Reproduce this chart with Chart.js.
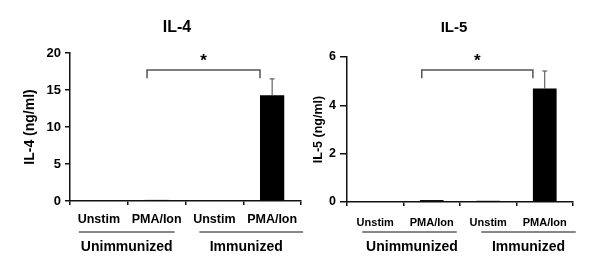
<!DOCTYPE html>
<html>
<head>
<meta charset="utf-8">
<script src="https://cdn.jsdelivr.net/npm/chart.js@4.4.1/dist/chart.umd.min.js"></script>
<style>
  body { margin: 0; background: #fff; }
  #wrap { position: relative; width: 600px; height: 277px; }
  .panel { position: absolute; top: 0; height: 277px; }
</style>
</head>
<body>
<div id="wrap">
  <div class="panel" style="left:0;width:310px"><canvas id="il4"></canvas></div>
  <div class="panel" style="left:300px;width:300px"><canvas id="il5"></canvas></div>
</div>
<script>
var categories = ["Unstim", "PMA/Ion", "Unstim", "PMA/Ion"];
var groups = ["Unimmunized", "Immunized"];
var groupSpans = [[0, 1], [2, 3]];

var il4Values = [0, 0.15, 0, 14.3];
var il4Errors = [0, 0, 0, 2.2];
var il4Ticks = [0, 5, 10, 15, 20];
var il4Bracket = [17.7, 16.6]; // bar top, leg end

var il5Values = [0, 0.08, 0.05, 4.7];
var il5Errors = [0, 0, 0, 0.72];
var il5Ticks = [0, 2, 4, 6];
var il5Bracket = [5.46, 5.12];

var FONT = '"Liberation Sans", Arial, sans-serif';
var AXIS = "#111";

// errors, significance bracket, titles and the group labels under the axis
function annotations(s) {
  return {
    id: "annot",
    afterDatasetsDraw: function (chart) {
      var ctx = chart.ctx;
      var x = chart.scales.x, y = chart.scales.y;
      var bars = chart.getDatasetMeta(0).data;
      ctx.save();

      ctx.strokeStyle = "#444";
      ctx.lineWidth = 1;
      s.errors.forEach(function (e, i) {
        if (!e) return;
        var b = bars[i];
        var top = y.getPixelForValue(s.values[i] + e);
        ctx.beginPath();
        ctx.moveTo(b.x, b.y);
        ctx.lineTo(b.x, top);
        ctx.moveTo(b.x - 2.5, top);
        ctx.lineTo(b.x + 2.5, top);
        ctx.stroke();
      });

      var bTop = y.getPixelForValue(s.bracket[0]);
      var bLeg = y.getPixelForValue(s.bracket[1]);
      var last = bars[3];
      var x1 = x.getPixelForValue(1) + s.bracketLeft;
      var x2 = last.x - last.width / 2;
      ctx.strokeStyle = "#555";
      ctx.lineWidth = 1.5;
      ctx.beginPath();
      ctx.moveTo(x1, bLeg);
      ctx.lineTo(x1, bTop);
      ctx.lineTo(x2, bTop);
      ctx.lineTo(x2, bLeg);
      ctx.stroke();

      ctx.fillStyle = "#000";
      ctx.textAlign = "center";
      ctx.textBaseline = "alphabetic";
      ctx.font = "bold 17px " + FONT;
      ctx.fillText("*", (x1 + x2) / 2, bTop - 4);

      ctx.textBaseline = "middle";
      ctx.font = "bold " + s.titleSize + "px " + FONT;
      ctx.fillText(s.title, s.titleX, 28);

      ctx.font = "bold 14px " + FONT;
      ctx.strokeStyle = AXIS;
      ctx.lineWidth = 1;
      groupSpans.forEach(function (span, g) {
        var a = x.getPixelForValue(span[0]) + s.lineOffsets[g][0];
        var b = x.getPixelForValue(span[1]) + s.lineOffsets[g][1];
        ctx.beginPath();
        ctx.moveTo(a, s.lineY);
        ctx.lineTo(b, s.lineY);
        ctx.stroke();
        ctx.fillText(groups[g], (a + b) / 2 + s.labelShift[g], s.groupY);
      });
      ctx.restore();
    }
  };
}

function drawPanel(id, s) {
  return new Chart(document.getElementById(id), {
    type: "bar",
    data: {
      labels: categories,
      datasets: [{
        data: s.values,
        backgroundColor: "#000",
        borderWidth: 0,
        categoryPercentage: 1,
        barPercentage: 0.42
      }]
    },
    options: {
      responsive: true,
      maintainAspectRatio: false,
      animation: false,
      layout: { padding: { top: s.top, right: s.right, left: 0, bottom: 0 } },
      plugins: { legend: { display: false }, tooltip: { enabled: false } },
      scales: {
        x: {
          grid: { offset: true, drawOnChartArea: false, tickLength: 4, color: AXIS, lineWidth: 1.5 },
          border: { color: AXIS, width: 1.5 },
          ticks: { font: { family: FONT, weight: "bold", size: s.catSize }, color: "#000", padding: s.catPad, maxRotation: 0, autoSkip: false },
          afterFit: function (sc) { sc.height = s.xHeight; }
        },
        y: {
          min: 0,
          max: s.ticks[s.ticks.length - 1],
          afterBuildTicks: function (sc) {
            sc.ticks = s.ticks.map(function (v) { return { value: v }; });
          },
          grid: { drawOnChartArea: false, tickLength: s.tickLen, color: AXIS, lineWidth: 1.5 },
          border: { color: AXIS, width: 1.5 },
          ticks: { font: { family: FONT, weight: "bold", size: s.tickSize }, color: "#000", padding: 4 },
          title: {
            display: true,
            text: s.yTitle,
            color: "#000",
            font: { family: FONT, weight: "bold", size: s.yTitleSize },
            padding: { top: s.yTitlePad, bottom: 0 }
          },
          afterFit: function (sc) { sc.width = s.yWidth; }
        }
      }
    },
    plugins: [annotations(s)]
  });
}

drawPanel("il4", {
  title: "IL-4", titleSize: 16, titleX: 177,
  yTitle: "IL-4 (ng/ml)", yTitleSize: 14, yTitlePad: 21.6,
  values: il4Values, errors: il4Errors, ticks: il4Ticks, bracket: il4Bracket,
  top: 53, right: 9, xHeight: 76, yWidth: 70, tickLen: 5, tickSize: 13,
  catSize: 12.5, catPad: 7.5, bracketLeft: -9.6,
  lineY: 232, groupY: 247,
  lineOffsets: [[-20, 18], [-15, 31]], labelShift: [0, -5]
});

drawPanel("il5", {
  title: "IL-5", titleSize: 15, titleX: 154,
  yTitle: "IL-5 (ng/ml)", yTitleSize: 12.5, yTitlePad: 11.5,
  values: il5Values, errors: il5Errors, ticks: il5Ticks, bracket: il5Bracket,
  top: 57, right: 27, xHeight: 75, yWidth: 47, tickLen: 7, tickSize: 12.5,
  catSize: 11, catPad: 10, bracketLeft: -10,
  lineY: 232, groupY: 247,
  lineOffsets: [[-13, 25], [-7, 31]], labelShift: [2.5, 0]
});
</script>
</body>
</html>
